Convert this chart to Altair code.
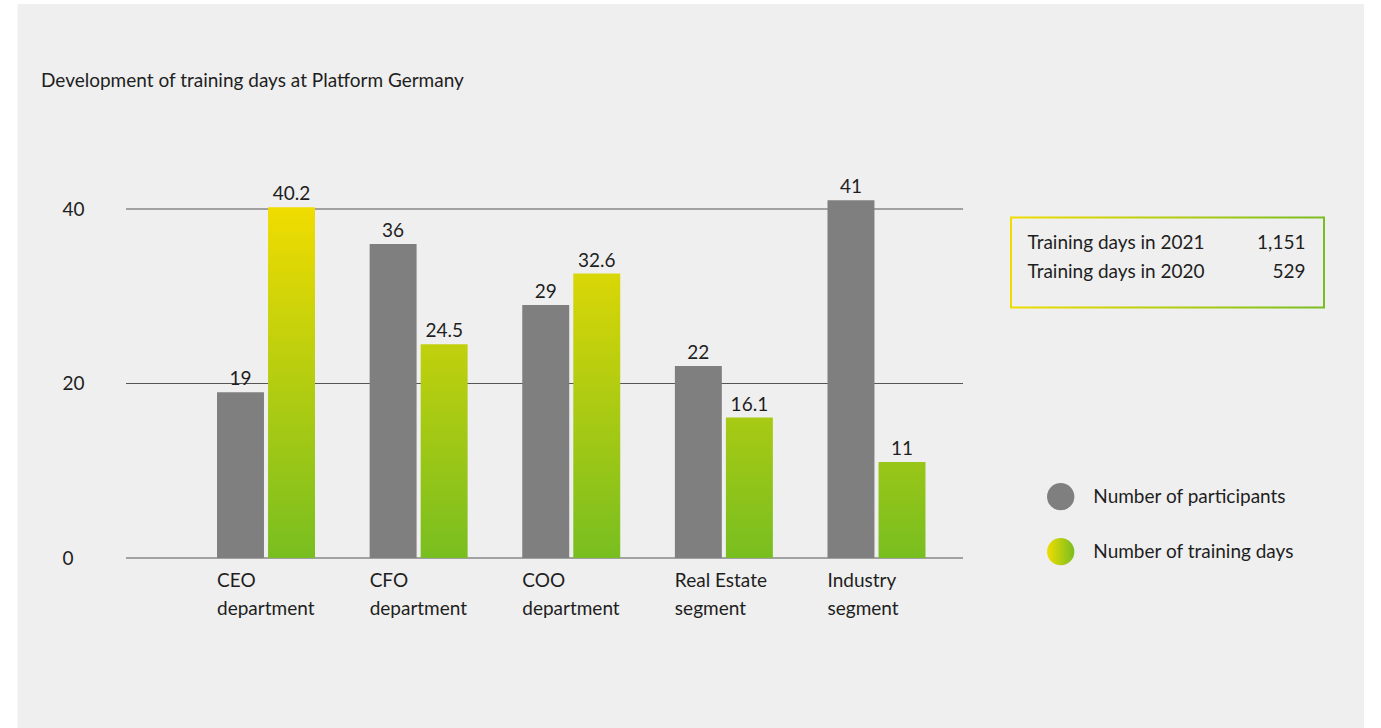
import altair as alt
import pandas as pd

# ---------------- data ----------------
categories = ["CEO department", "CFO department", "COO department",
              "Real Estate segment", "Industry segment"]
participants = [19, 36, 29, 22, 41]
training_days = [40.2, 24.5, 32.6, 16.1, 11]
y_ticks = [0, 20, 40]
series = ["Number of participants", "Number of training days"]
summary_labels = ["Training days in 2021", "Training days in 2020"]
summary_values = ["1,151", "529"]
title_text = "Development of training days at Platform Germany"

# ---------------- styles ----------------
FONT = "Lato"
FS = 19
TEXT = "#1e1e1e"
GRAY = "#7f7f7f"
YELLOW = "#f0dc00"
GREEN = "#78be20"
PANEL = "#efefef"
GRID = "#555555"

W, H = 837, 349

rows = []
for c, p, d in zip(categories, participants, training_days):
    rows.append({"cat": c, "series": series[0], "value": p})
    rows.append({"cat": c, "series": series[1], "value": d})
df = pd.DataFrame(rows)

one = pd.DataFrame({"k": [0]})

label_expr = ("[slice(datum.label, 0, lastindexof(datum.label, ' ')), "
              "slice(datum.label, lastindexof(datum.label, ' ') + 1)]")

x_enc = alt.X(
    "cat:N", sort=categories,
    scale=alt.Scale(domain=categories, range=[63.7, 826.8],
                    paddingInner=0.358, paddingOuter=0.179),
    axis=alt.Axis(title=None, domain=False, ticks=False, tickSize=0,
                  labelAngle=0, labelOffset=-49, labelAlign="left",
                  labelBaseline="top", labelPadding=13, labelLineHeight=28,
                  labelExpr=label_expr, labelFont=FONT, labelFontSize=FS,
                  labelColor=TEXT, labelOverlap=False, labelLimit=300,
                  zindex=1),
)
xo_enc = alt.XOffset("series:N", sort=series,
                     scale=alt.Scale(domain=series, paddingInner=0.08,
                                     paddingOuter=0))
y_enc = alt.Y(
    "value:Q",
    scale=alt.Scale(domain=[0, 40], nice=False),
    axis=alt.Axis(title=None, values=y_ticks, grid=False, domain=False,
                  ticks=False, tickSize=0, labelAlign="left",
                  labelBaseline="middle", labelPadding=64, labelFont=FONT,
                  labelFontSize=FS, labelColor=TEXT, zindex=1),
)

grad_h = {"gradient": "linear", "x1": 0, "x2": 1, "y1": 0, "y2": 0,
          "stops": [{"offset": 0, "color": YELLOW},
                    {"offset": 1, "color": GREEN}]}

layers = []

# background panel
layers.append(
    alt.Chart(one).mark_rect(color=PANEL).encode(
        x=alt.value(-108.5), x2=alt.value(1238),
        y=alt.value(-205), y2=alt.value(519))
)

# gridlines
layers.append(
    alt.Chart(pd.DataFrame({"value": y_ticks})).mark_rule(
        color=GRID, strokeWidth=1).encode(
        y=y_enc, x=alt.value(0), x2=alt.value(W))
)

# participants bars
layers.append(
    alt.Chart(df[df["series"] == series[0]]).mark_bar(color=GRAY).encode(
        x=x_enc, xOffset=xo_enc, y=y_enc)
)

# training-days bars with a gradient running over the whole value range
top = max(training_days)
for c, v in zip(categories, training_days):
    grad_v = {"gradient": "linear", "x1": 0, "x2": 0,
              "y1": round(1 - top / v, 4), "y2": 1,
              "stops": [{"offset": 0, "color": YELLOW},
                        {"offset": 1, "color": GREEN}]}
    sub = df[(df["series"] == series[1]) & (df["cat"] == c)]
    layers.append(
        alt.Chart(sub).mark_bar(color=grad_v).encode(
            x=x_enc, xOffset=xo_enc, y=y_enc)
    )

# value labels
layers.append(
    alt.Chart(df).mark_text(font=FONT, fontSize=FS, color=TEXT,
                            baseline="alphabetic", dy=-7).encode(
        x=x_enc, xOffset=xo_enc, y=y_enc, text=alt.Text("value:Q"))
)

# title
layers.append(
    alt.Chart(pd.DataFrame({"t": [title_text]})).mark_text(
        font=FONT, fontSize=FS, color=TEXT, align="left",
        baseline="middle").encode(
        x=alt.value(-85), y=alt.value(-128), text="t:N")
)

# summary box
layers.append(
    alt.Chart(one).mark_rect(fill="transparent", stroke=grad_h,
                             strokeWidth=2).encode(
        x=alt.value(885), x2=alt.value(1198),
        y=alt.value(8.5), y2=alt.value(98.5))
)
for i, (lab, val) in enumerate(zip(summary_labels, summary_values)):
    yy = 33.7 + 29 * i
    layers.append(
        alt.Chart(pd.DataFrame({"t": [lab]})).mark_text(
            font=FONT, fontSize=FS, color=TEXT, align="left",
            baseline="middle").encode(
            x=alt.value(901.5), y=alt.value(yy), text="t:N")
    )
    layers.append(
        alt.Chart(pd.DataFrame({"t": [val]})).mark_text(
            font=FONT, fontSize=FS, color=TEXT, align="right",
            baseline="middle").encode(
            x=alt.value(1179.5), y=alt.value(yy), text="t:N")
    )

# legend
legend_fill = [GRAY, grad_h]
for i, (name, fill) in enumerate(zip(series, legend_fill)):
    yy = 287.7 + 55 * i
    layers.append(
        alt.Chart(one).mark_circle(size=746, color=fill, opacity=1).encode(
            x=alt.value(934.7), y=alt.value(yy))
    )
    layers.append(
        alt.Chart(pd.DataFrame({"t": [name]})).mark_text(
            font=FONT, fontSize=FS, color=TEXT, align="left",
            baseline="middle").encode(
            x=alt.value(967.3), y=alt.value(yy), text="t:N")
    )

chart = alt.layer(*layers).properties(
    width=W, height=H,
    autosize=alt.AutoSizeParams(type="none"),
    padding={"left": 126, "top": 209, "right": 418, "bottom": 170},
    background="#ffffff",
).configure_view(strokeWidth=0)

chart.save("out.html", embed_options={"renderer": "svg", "actions": False})
